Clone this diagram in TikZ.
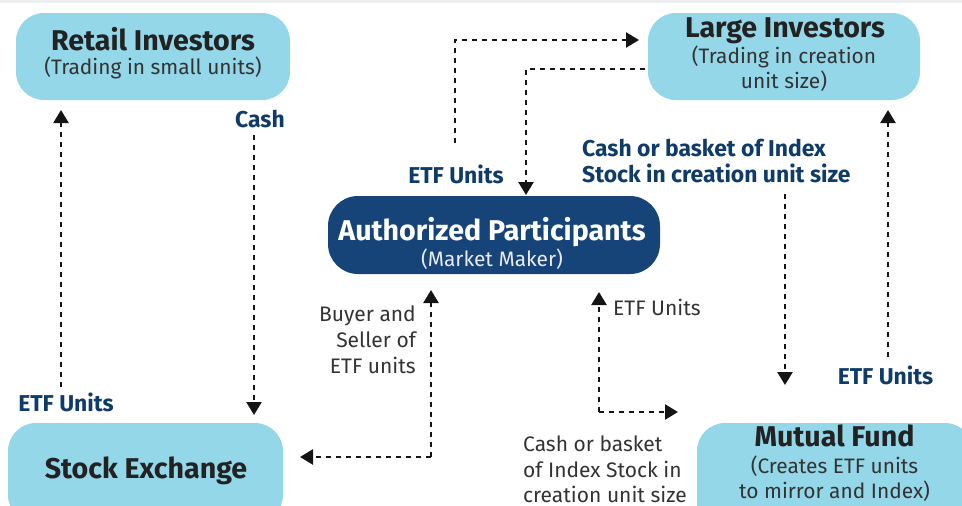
\documentclass[tikz,border=0pt]{standalone}
\usepackage{fontspec}
\setmainfont{Fira Sans}
\usetikzlibrary{arrows.meta}
\definecolor{boxcyan}{HTML}{93D7E8}
\definecolor{apblue}{HTML}{164478}
\definecolor{navy}{HTML}{0E3B68}
\definecolor{darktext}{HTML}{222222}
\definecolor{greytext}{HTML}{333333}
\definecolor{topbar}{HTML}{ECEEF0}
\tikzset{
  lightbox/.style={fill=boxcyan, draw=none, rounded corners=28pt, inner sep=0pt},
  darkbox/.style={fill=apblue, draw=none, rounded corners=30pt, inner sep=0pt},
  title/.style={font=\fontsize{28.6}{32}\selectfont\bfseries, text=darktext, inner sep=0pt, anchor=base},
  subtitle/.style={font=\fontsize{20.9}{25}\selectfont, text=greytext, inner sep=0pt, anchor=base},
  boldlabel/.style={font=\fontsize{22.9}{26}\selectfont\bfseries, text=navy, inner sep=0pt, anchor=base},
  plainlabel/.style={font=\fontsize{21}{26}\selectfont, text=greytext, inner sep=0pt},
  flow/.style={draw=black!92, line width=2.5pt, dash pattern=on 5pt off 5pt,
    -{Triangle[length=13pt,width=15pt]}},
}
\begin{document}
\begin{tikzpicture}[x=1pt,y=-1pt]
\useasboundingbox (0,0) rectangle (962,506);
\clip (0,0) rectangle (962,506);
\fill[topbar] (0,0) rectangle (962,3);

% boxes
\node[lightbox, minimum width=274pt, minimum height=87pt] (retail) at (153,56.5) {};
\node[lightbox, minimum width=272pt, minimum height=87pt] (large) at (784,56.5) {};
\node[darkbox, minimum width=332pt, minimum height=78pt] (ap) at (494,235) {};
\node[lightbox, minimum width=275pt, minimum height=100pt] (stock) at (145.5,473) {};
\node[lightbox, minimum width=276pt, minimum height=110pt] (mutual) at (835,478) {};

% box texts
\node[title] (retailT) at (153,50) {Retail Investors};
\node[subtitle] (retailS) at (153,74) {(Trading in small units)};
\node[title] (largeT) at (785,37) {Large Investors};
\node[subtitle] (largeSa) at (784,63) {(Trading in creation};
\node[subtitle] (largeSb) at (784,88) {unit size)};
\node[title, text=white] (apT) at (492,240) {Authorized Participants};
\node[subtitle, text=white!90!apblue] (apS) at (492,266) {(Market Maker)};
\node[title] (stockT) at (146,478) {Stock Exchange};
\node[title] (mutualT) at (834.5,446) {Mutual Fund};
\node[subtitle] (mutualSa) at (834.5,473) {(Creates ETF units};
\node[subtitle] (mutualSb) at (834.5,498) {to mirror and Index)};

% connector coordinates
\coordinate (c1s) at (61,387);  \coordinate (c1e) at (61,110);
\coordinate (c2s) at (254,135); \coordinate (c2e) at (254,415);
\coordinate (c3s) at (455,143); \coordinate (c3m) at (455,40); \coordinate (c3e) at (639,40);
\coordinate (c4s) at (645,69);  \coordinate (c4m) at (526,69); \coordinate (c4e) at (526,195);
\coordinate (c5s) at (785,194); \coordinate (c5e) at (785,385);
\coordinate (c6s) at (888,357); \coordinate (c6e) at (888,110);
\coordinate (c7s) at (431,290); \coordinate (c7m) at (431,457); \coordinate (c7e) at (300,457);
\coordinate (c8s) at (599,292); \coordinate (c8m) at (599,412); \coordinate (c8e) at (678,412);

% connectors
\draw[flow] (c1s) -- (c1e);
\draw[flow] (c2s) -- (c2e);
\draw[flow] (c3s) -- (c3m) -- (c3e);
\draw[flow] (c4s) -- (c4m) -- (c4e);
\draw[flow] (c5s) -- (c5e);
\draw[flow] (c6s) -- (c6e);
\draw[flow] (c7m) -- (c7s);
\draw[flow] (c7m) -- (c7e);
\draw[flow] (c8m) -- (c8s);
\draw[flow] (c8m) -- (c8e);

% labels
\node[boldlabel] (l1) at (66,411) {ETF Units};
\node[boldlabel] (l2) at (260,127) {Cash};
\node[boldlabel] (l3) at (456,183) {ETF Units};
\node[boldlabel, anchor=base west] (l4a) at (582,156) {Cash or basket of Index};
\node[boldlabel, anchor=base west] (l4b) at (582,182) {Stock in creation unit size};
\node[boldlabel] (l5) at (885.5,384) {ETF Units};
\node[plainlabel, anchor=base west] (l6) at (613,315) {ETF Units};
\node[plainlabel, anchor=base east] (l7a) at (416,321) {Buyer and};
\node[plainlabel, anchor=base east] (l7b) at (416,347) {Seller of};
\node[plainlabel, anchor=base east] (l7c) at (416,373) {ETF units};
\node[plainlabel, anchor=base west] (l8a) at (523,451) {Cash or basket};
\node[plainlabel, anchor=base west] (l8b) at (523,477) {of Index Stock in};
\node[plainlabel, anchor=base west] (l8c) at (523,502) {creation unit size};
\end{tikzpicture}
\end{document}
